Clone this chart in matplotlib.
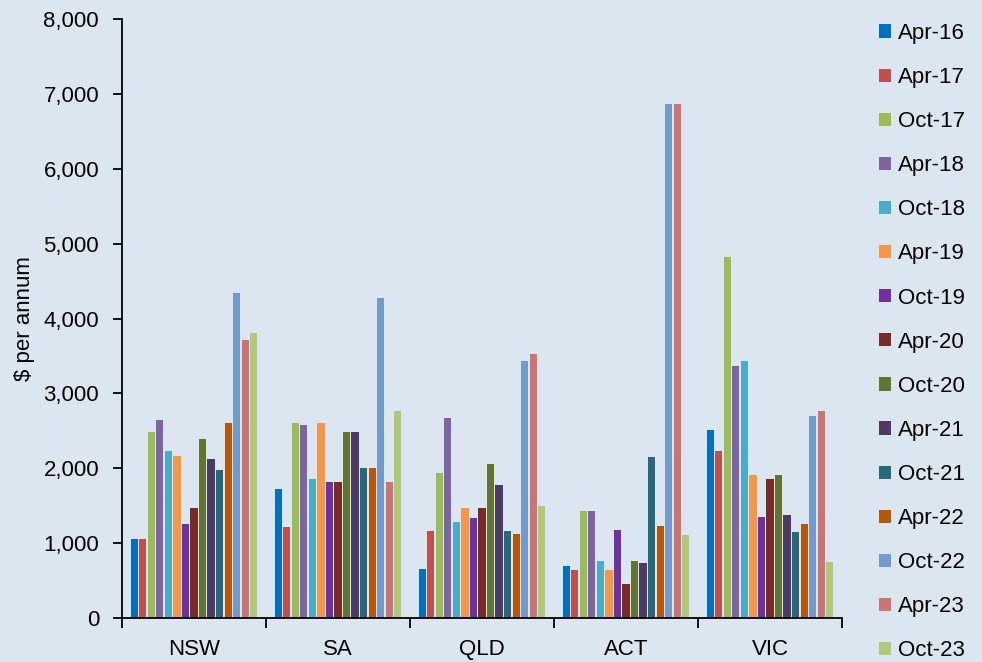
import numpy as np
import matplotlib.pyplot as plt
from matplotlib.patches import Patch
from matplotlib.ticker import FuncFormatter

plt.rcParams['font.family'] = ['Liberation Sans', 'DejaVu Sans']

regions = ['NSW', 'SA', 'QLD', 'ACT', 'VIC']
periods = ['Apr-16', 'Apr-17', 'Oct-17', 'Apr-18', 'Oct-18', 'Apr-19', 'Oct-19',
           'Apr-20', 'Oct-20', 'Apr-21', 'Oct-21', 'Apr-22', 'Oct-22', 'Apr-23', 'Oct-23']
colors = ['#0070C0', '#C0504D', '#9BBB59', '#8064A2', '#4BACC6', '#F79646', '#7030A0',
          '#772C2A', '#5F7530', '#4D3B62', '#276A7C', '#B65708', '#729ACA', '#CD7371', '#AFC97A']

# one list per region, one value per period
nsw = [1050, 1050, 2480, 2640, 2230, 2160, 1250, 1470, 2390, 2130, 1970, 2610, 4340, 3710, 3810]
sa  = [1720, 1220, 2610, 2580, 1850, 2610, 1810, 1810, 2480, 2480, 2000, 2000, 4280, 1810, 2760]
qld = [650, 1160, 1940, 2670, 1280, 1470, 1340, 1470, 2060, 1780, 1160, 1120, 3430, 3520, 1500]
act = [700, 640, 1430, 1430, 765, 640, 1170, 450, 765, 735, 2155, 1235, 6870, 6870, 1110]
vic = [2510, 2230, 4820, 3365, 3430, 1910, 1345, 1850, 1910, 1375, 1155, 1250, 2700, 2765, 750]

values = np.array([nsw, sa, qld, act, vic])

bg = '#DCE6F0'
fig = plt.figure(figsize=(9.82, 6.62), dpi=100, facecolor=bg)
ax = fig.add_axes([122/982, 1 - 618/662, 720/982, 599/662])
ax.set_facecolor(bg)

n = len(periods)
x = np.arange(len(regions))
slot = 0.889 / n
for i, p in enumerate(periods):
    off = (i - (n - 1) / 2) * slot
    ax.bar(x + off, values[:, i], width=slot * 0.85, color=colors[i], label=p)

ax.set_xlim(-0.5, 4.5)
ax.set_ylim(0, 8000)
ax.set_yticks(np.arange(0, 8001, 1000))
ax.yaxis.set_major_formatter(FuncFormatter(lambda v, _: f'{int(v):,}'))
ax.set_xticks(x)
ax.set_xticklabels(regions)
ax.set_xticks(np.arange(-0.5, 4.6, 1), minor=True)
ax.tick_params(axis='x', which='major', length=0, pad=15, labelsize=16)
ax.tick_params(axis='x', which='minor', length=7, width=1.3, direction='out')
ax.tick_params(axis='y', length=6.5, width=1.3, direction='out', labelsize=16, pad=10)
ax.set_ylabel('$ per annum', fontsize=16, labelpad=6)

for s in ['top', 'right']:
    ax.spines[s].set_visible(False)
for s in ['left', 'bottom']:
    ax.spines[s].set_linewidth(1.3)

handles = [Patch(facecolor=c) for c in colors]
fig.legend(handles, periods, loc='upper left', bbox_to_anchor=(870/982, 1 - 14/662),
           frameon=False, fontsize=16, handlelength=0.54, handleheight=0.54,
           handletextpad=0.3, labelspacing=1.04, borderaxespad=0)

plt.savefig('out.png', dpi=100, facecolor=bg)
